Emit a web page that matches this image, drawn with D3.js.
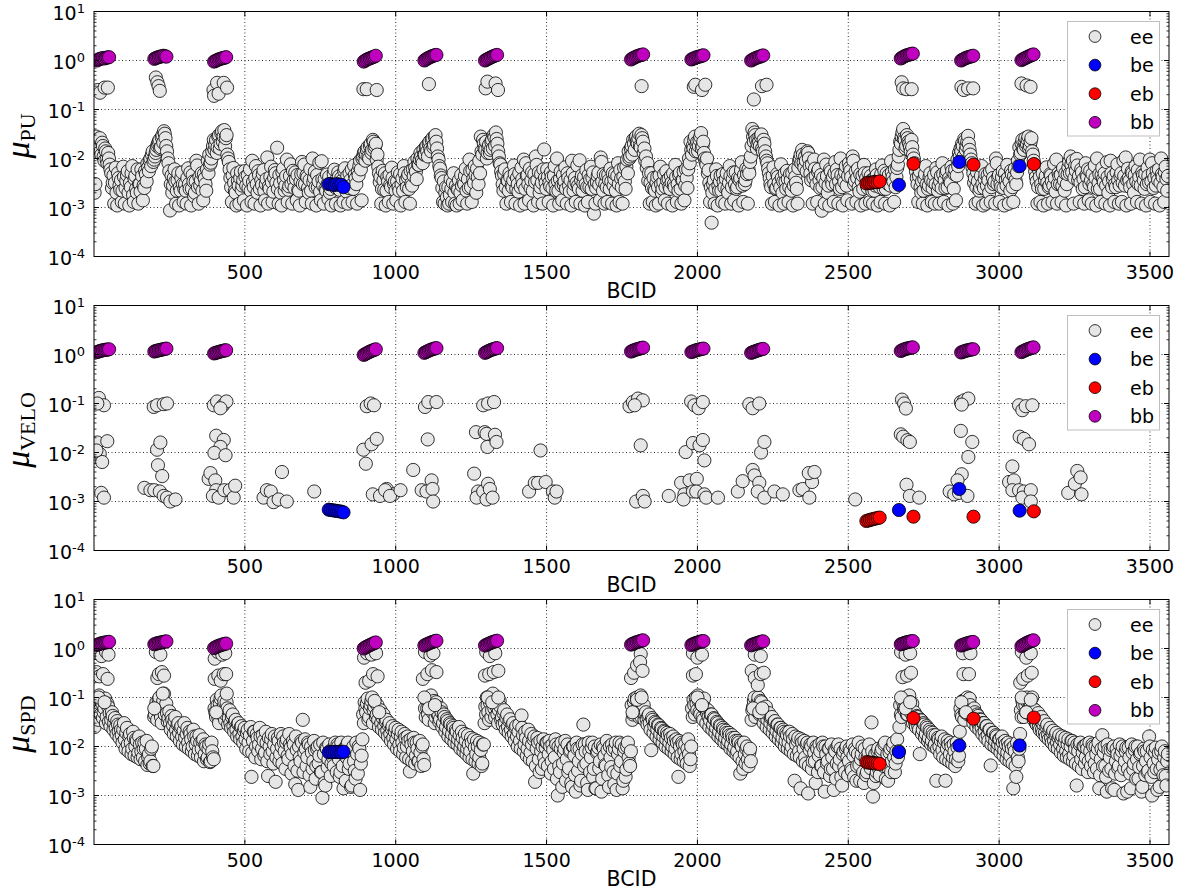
<!DOCTYPE html>
<html><head><meta charset="utf-8">
<script src="https://cdn.jsdelivr.net/npm/d3@7"></script>
<style>body{margin:0;background:#fff}svg{display:block}</style>
</head><body>
<svg id="chart" width="1192" height="896"></svg>
<script>
// ---------------- DATA ----------------
const classes = ["ee", "be", "eb", "bb"];
const classColors = {ee: "#e6e6e6", be: "#0000ff", eb: "#ff0000", bb: "#bf00bf"};
const panelNames = ["PU", "VELO", "SPD"];
const xTickValues = [500, 1000, 1500, 2000, 2500, 3000, 3500];
const yTickExponents = [1, 0, -1, -2, -3, -4];

// ee crossings, sampled on a 5-BCID grid: row r holds BCID 100*r+2, +7, +12 ... (units of 1e-3)
const eePU_milli = [
 [2.0,28,24,19,14,21,11,16,9.5,13,7.5,5.0,3.2,1.2,6.5,1.1,4.0,2.3,1.3,6.8],
 [1.2,3.5,5.5,1.1,2.6,7.0,1.3,4.4,2.0,1.2,3.0,6.0,1.4,2.5,4.8,8.0,5.5,10,12,8.5],
 [11,15,20,24,17,30,36,26,14,8.0,0.87,4.5,2.8,6.0,1.2,3.6,1.1,2.2,5.2,1.3],
 [3.0,1.2,6.3,2.4,1.1,4.6,1.7,3.4,7.2,1.2,2.8,5.0,1.4,3.9,2.2,9.0,12,8.2,14,24],
 [19,13,28,16,33,22,38,26,12,8.5,4.0,1.3,6.4,2.2,1.1,3.5,1.2,5.4,2.8,1.4],
 [4.2,1.1,2.5,6.0,1.3,3.3,1.2,7.0,2.0,4.6,1.1,2.9,5.8,1.4,3.8,1.2,2.4,6.8,1.3,4.0],
 [5.0,16.6,1.2,3.1,1.1,6.2,2.2,4.4,1.3,2.7,7.6,1.2,3.6,5.2,1.4,2.3,1.1,4.8,3.0,7.5],
 [1.3,4.1,2.0,6.1,1.2,3.3,5.4,1.1,2.6,8.2,1.4,3.8,1.2,2.4,4.7,1.5,2.0,1.1,3.2,5.9],
 [1.2,2.6,4.3,1.1,3.5,1.3,6.3,2.1,1.2,5.0,2.8,1.3,7.2,3.9,1.2,4.5,9.0,1.4,11,14],
 [12,17,10,20,15,22,18,9.5,6.8,3.3,1.2,5.6,2.3,1.1,4.2,1.3,2.9,6.5,1.2,3.4],
 [1.4,5.2,2.2,1.1,3.9,7.0,1.3,2.6,4.8,1.2,3.1,6.0,8.5,5.4,10,7.4,13,9.2,15,12],
 [18,11,22,14,26,19,30,16,9.5,6.2,4.0,1.3,1.2,2.6,1.1,1.2,3.8,1.3,5.0,1.2],
 [1.1,2.3,1.2,4.6,1.4,3.0,6.2,1.2,2.5,5.5,1.3,3.8,7.0,2.0,4.2,9.0,28,12,20,15],
 [10,17,13,22,16,27,34,20,11,7.5,4.5,2.2,6.0,1.2,3.5,5.0,1.3,2.6,7.2,1.2],
 [4.0,2.1,1.1,6.5,3.0,1.2,8.0,4.6,1.4,2.5,5.2,1.1,3.3,7.4,1.3,2.0,4.8,1.2,15.3,3.2],
 [6.0,1.3,2.7,4.2,1.1,7.0,2.2,3.5,1.2,5.4,1.4,2.9,6.6,1.2,4.0,2.1,1.1,5.0,3.0,1.3],
 [7.2,2.4,1.2,4.5,3.1,1.1,5.8,1.3,2.6,6.8,4.0,0.75,1.2,3.3,5.1,1.4,8.5,2.2,1.2,4.6],
 [1.3,3.6,6.2,1.2,2.8,4.8,1.1,8.0,1.3,3.9,1.2,6.5,2.4,9.5,14,11,18,24,15,28],
 [20,32,17,26,13,9.0,6.4,3.5,1.2,5.0,1.3,2.4,1.1,4.2,1.2,6.8,2.0,3.3,1.4,5.5],
 [1.2,2.7,4.4,1.1,3.0,7.4,1.3,2.2,5.1,1.2,3.6,1.4,6.0,2.5,10,22,12,16,28,19],
 [14,24,33,18,13,8.5,10,5.8,1.3,0.49,3.0,1.2,6.0,1.1,2.2,4.5,1.3,3.4,1.2,5.0],
 [2.0,7.0,1.2,3.8,1.4,5.2,2.6,1.1,4.0,8.4,1.3,3.0,6.2,1.2,5.0,11,40,22,30,16],
 [26,18,31,14,20,11,8.0,5.0,3.0,1.2,6.6,1.3,2.5,4.2,1.1,7.6,2.0,1.2,3.4,5.6],
 [1.3,4.8,2.2,1.1,6.0,3.2,1.2,9.0,12,15,8.2,11,5.5,13,7.0,3.6,1.2,9.5,4.4,1.3],
 [6.0,2.5,0.86,4.0,1.2,7.5,2.0,1.1,5.4,3.0,1.3,8.5,6.0,1.2,2.4,4.6,1.1,3.3,7.0,1.4],
 [8.0,5.6,1.2,9.0,3.5,1.3,6.2,2.1,1.1,4.5,7.4,1.2,2.8,5.0,1.3,3.6,1.2,2.2,6.0,1.1],
 [3.8,1.3,7.2,2.4,1.2,5.0,3.0,1.1,8.8,4.2,1.3,2.6,6.4,11,22,28,40,24,18,26],
 [20,14,17,10,6.8,4.0,1.3,5.5,2.0,1.2,3.8,7.0,1.1,2.8,5.0,1.3,3.3,1.2,6.4,2.2],
 [1.2,4.4,8.0,1.3,2.5,5.6,1.1,3.4,6.8,1.2,4.8,1.4,9.5,13,16,20,11,23,18,29],
 [15,9.5,6.5,3.2,1.2,5.2,1.3,2.5,7.0,1.1,3.8,1.2,4.6,2.0,1.3,6.0,3.0,1.2,8.0,4.2],
 [1.3,2.6,5.5,1.1,3.6,7.4,1.2,2.2,4.8,1.3,6.2,3.0,9.0,17,13,24,15,26,20,28],
 [18,26,12,7.5,4.2,1.2,5.8,1.3,2.4,1.1,3.6,6.6,1.2,2.8,4.5,1.3,7.8,2.1,1.2,5.0],
 [3.0,1.3,6.4,2.2,1.1,4.8,8.6,11,5.2,1.2,7.0,9.8,3.6,1.3,6.0,2.4,1.2,8.0,4.2,1.4],
 [5.6,1.2,3.0,7.2,1.1,2.4,4.8,1.3,6.4,3.3,1.2,8.4,2.0,1.1,5.0,3.8,1.3,2.6,7.6,1.2],
 [4.4,1.3,9.0,2.8,1.1,6.2,3.5,1.2,5.0,2.0,7.0,1.3,3.0,9.5,1.2,4.6,2.4,1.1,6.5,3.2],
 [1.3,8.0,2.5,1.2,5.6,3.6,1.1,10,4.2,1.3,6.8,2.2]
];
// second interleaved grid: row r holds BCID 100*r+4.5, +9.5 ... (units of 1e-3)
const eePU2_milli = [
 [3.0,22,16,26,12,18,9.0,14,8.0,10,6.0,2.5,4.5,3.2,2.0,5.0,2.8,3.6,2.2,4.2],
 [2.5,4.6,2.0,3.2,5.0,1.8,3.8,2.4,6.0,3.0,2.1,4.4,2.8,5.6,3.4,6.5,9.0,7.0,14,9.5],
 [13,18,22,16,27,21,32,18,10,5.5,3.0,2.0,4.0,3.4,2.2,5.0,2.6,4.0,3.0,2.4],
 [2.2,4.0,3.0,5.2,2.4,3.4,2.0,9.0,2.6,4.2,3.6,2.2,4.8,3.0,6.0,5.0,7.5,10,18,15],
 [24,17,30,20,36,28,18,30,10,6.0,2.6,4.5,3.2,2.0,5.0,2.8,4.0,2.3,3.6,5.5],
 [2.8,4.5,3.5,2.2,9.0,2.6,4.0,3.0,5.5,2.4,3.6,4.8,2.2,3.0,10.5,2.7,4.2,3.3,2.1,5.8],
 [3.2,2.4,4.6,2.0,5.2,3.6,2.8,9.5,2.3,4.4,3.0,5.6,2.5,3.8,4.6,2.2,3.4,8.5,5.0,3.0],
 [4.5,2.5,3.6,2.2,10,4.0,2.6,4.6,3.4,2.1,8.8,2.8,3.8,2.2,3.0,4.2,2.4,3.2,4.8,2.6],
 [3.8,5.2,2.3,4.0,2.8,5.6,3.2,4.4,2.5,3.6,6.0,2.4,4.6,3.0,5.4,7.0,6.0,10,13,9.0],
 [15,11,18,13,24,16,20,12,5.0,4.2,2.4,3.6,5.0,2.2,3.4,4.6,2.6,4.0,3.0,2.2],
 [3.4,2.6,4.8,3.0,2.2,5.0,3.6,4.2,2.4,5.6,2.8,4.4,6.5,3.8,7.5,9.5,11,8.0,12,17],
 [14,20,16,24,17,28,22,11,7.0,4.5,2.5,3.4,2.0,1.6,2.6,1.8,2.4,3.2,2.0,2.8],
 [2.4,3.6,2.0,2.8,3.3,4.4,2.2,3.8,9.5,2.6,5.8,3.2,4.6,6.2,3.0,5.0,14,24,16,22],
 [13,19,15,24,30,18,25,14,8.0,5.4,3.0,4.8,2.6,3.6,2.2,4.2,2.8,3.6,4.8,2.4],
 [3.0,5.0,2.6,3.8,9.5,2.4,4.4,3.0,6.2,3.6,2.2,4.8,11,3.6,5.2,2.6,3.2,6.0,4.0,2.4],
 [4.2,3.2,5.2,2.5,4.4,3.0,10,2.2,3.8,2.8,4.6,3.4,2.4,5.0,2.8,3.6,9.0,2.2,4.0,3.2],
 [2.8,9.2,3.6,2.2,4.2,3.0,2.6,4.6,3.8,2.4,5.2,3.0,2.5,4.4,2.9,10.5,3.4,4.8,3.0,2.6],
 [4.6,2.4,3.4,5.0,3.8,2.2,4.4,3.0,5.8,2.6,4.2,3.4,6.8,5.0,10,16,12,20,26,22],
 [26,18,30,22,16,11,8.0,5.0,3.2,2.5,4.0,2.2,3.2,2.6,4.5,3.0,2.4,4.8,2.6,3.6],
 [3.8,2.4,3.2,5.0,2.6,4.2,3.0,4.6,2.4,3.6,5.4,2.8,4.0,6.0,8.0,15,18,24,14,22],
 [18,28,16,22,10,7.5,5.0,3.2,2.6,2.0,3.6,2.4,4.4,2.8,3.4,2.2,4.8,2.6,3.8,2.4],
 [3.2,4.4,2.6,5.2,3.0,2.4,4.0,3.6,5.8,2.8,4.6,3.6,4.8,6.0,8.5,18,28,34,24,20],
 [22,28,16,24,14,9.0,6.2,4.0,2.6,4.4,3.0,2.4,4.8,3.2,2.6,4.0,3.4,5.0,2.4,3.8],
 [2.6,3.6,5.0,2.8,4.2,2.4,6.4,10,8.0,12,6.5,9.0,14,10,5.0,7.5,4.0,6.2,3.0,5.4],
 [3.6,4.6,2.6,9.5,3.2,4.4,2.8,6.0,3.6,4.2,5.0,3.0,4.6,3.4,10,2.6,4.0,5.2,2.8,4.4],
 [6.5,4.2,11,3.0,5.5,4.0,2.6,4.8,3.4,2.4,5.0,4.0,2.5,3.6,4.4,2.2,3.8,2.8,4.6,3.2],
 [2.6,4.8,3.2,5.6,2.4,3.8,4.6,2.8,5.2,3.4,6.0,4.2,7.5,15,20,34,26,16,30,22],
 [17,24,12,8.0,5.4,3.0,4.4,2.6,3.4,2.2,4.8,3.0,2.4,4.2,3.6,2.5,4.6,3.0,5.2,2.8],
 [3.4,2.5,4.8,3.6,5.0,2.6,4.0,3.2,5.6,2.4,6.0,4.5,7.0,11,14,18,25,15,22,20],
 [12,8.0,5.0,4.0,2.6,3.4,2.2,4.4,3.0,2.5,4.8,2.8,3.6,5.4,2.6,4.0,3.4,10,3.0,4.6],
 [3.0,4.2,2.5,5.0,2.8,4.0,3.4,5.6,2.6,4.4,3.6,5.2,7.0,12,20,16,22,18,24,16],
 [22,14,9.0,5.5,3.4,2.6,4.2,3.0,5.0,2.4,4.4,3.2,2.6,4.8,3.4,2.8,4.0,9.5,3.0,4.4],
 [4.6,2.8,3.6,5.0,3.0,6.5,5.0,7.5,9.0,4.0,5.6,7.2,4.4,3.2,5.2,3.8,2.6,4.6,6.0,3.0],
 [3.6,4.8,2.6,4.0,10,3.2,2.4,4.6,3.8,5.0,2.8,4.2,3.4,9.0,2.6,4.4,3.0,5.2,3.6,2.8],
 [5.0,3.2,4.4,10.5,3.6,4.0,2.6,5.4,3.0,4.6,3.4,5.8,4.2,2.8,5.2,3.6,4.8,3.0,4.4,9.5],
 [3.4,5.0,4.0,2.8,4.4,6.0,3.2,4.8,2.6,5.2,3.8,4.4]
];
const eeSPD_milli = [
 [25,90,60,110,45,75,50,95,40,65,48,35,42,30,24,33,20,27,17,22],
 [14,19,11,16,12,9.0,15,10,13,7.5,11,8.0,6.0,12,9.0,4.2,7.0,5.0,10,4.0],
 [45,80,55,100,40,70,120,60,48,38,30,42,27,33,22,28,19,24,16,21],
 [15,18,12,20,14,10,16,11,13,8.5,12,9.0,14,7.0,10,6.0,11,5.0,8.0,5.5],
 [50,90,40,75,110,55,85,45,60,38,30,40,26,33,22,29,18,25,16,21],
 [14,19,12,17,2.4,13,20,10,15,11,16,9.0,13,7.5,12,2.5,10,14,8.0,11],
 [1.9,9.0,13,7.0,10,16,8.0,12,6.5,18,9.5,7.0,11,1.7,8.5,1.3,6.0,13,35,7.5],
 [9.0,6.0,11,1.5,7.5,5.0,8.5,4.0,10,6.5,3.0,0.9,7.0,1.6,9.0,5.5,8.0,4.5,6.0,10],
 [8.0,11,5.5,3.0,7.5,1.4,9.0,6.0,12,4.5,1.5,8.0,5.0,2.2,7.0,10,1.3,6.5,45,80],
 [50,95,40,70,100,55,80,45,35,48,30,38,26,32,21,27,18,23,15,20],
 [14,18,11,16,12,9.5,15,10,13,3.1,11,8.0,12,6.5,9.0,5.0,7.5,10,5.5,60],
 [90,45,75,110,50,85,40,65,45,36,50,30,40,25,33,21,28,18,24,16],
 [20,14,17,12,15,10,13,9.0,11,8.0,12,2.8,9.5,7.0,10,6.0,8.5,4.5,11,65],
 [100,50,80,40,120,60,90,45,55,65,40,48,30,38,25,33,22,28,18,24],
 [16,20,13,43,17,11,15,9.0,13,7.5,11,14,1.9,9.0,12,3.0,8.0,10,6.0,9.5],
 [12,7.0,10,5.0,8.5,6.0,11,1.0,4.0,9.0,1.5,7.5,13,5.5,3.0,8.0,1.8,10,6.5,1.2],
 [9.0,5.0,1.6,7.0,28,11,4.5,1.3,8.0,6.0,12,3.5,1.4,7.5,9.5,5.0,1.2,10,6.5,4.0],
 [8.5,1.5,6.0,11,3.0,9.0,1.3,7.0,12,5.0,1.4,8.0,2.4,10,6.0,4.0,70,45,95,55],
 [85,40,110,50,70,45,36,42,30,8.4,35,26,30,22,27,18,23,16,20,14],
 [17,12,15,10,13,9.0,12,2.4,10,7.0,11,8.0,6.0,9.0,7.0,5.5,60,90,45,75],
 [110,50,80,40,95,60,48,40,34,45,28,36,24,30,20,26,17,22,15,19],
 [13,17,11,15,9.5,13,8.0,12,2.8,10,3.5,7.0,9.0,5.5,7.5,5.0,55,85,40,70],
 [100,45,80,60,40,65,35,48,30,40,25,33,21,28,18,24,15,20,13,17],
 [12,16,10,14,2.0,11,13,8.0,1.4,12,9.0,6.0,11,1.1,8.5,10,5.0,7.5,1.8,9.0],
 [6.5,8.0,4.0,10,1.2,7.0,5.0,9.0,3.5,6.0,1.3,8.0,4.5,11,5.5,2.4,7.0,3.8,9.0,6.0],
 [5.0,8.0,3.2,6.5,9.0,2.0,7.0,4.2,5.5,10,1.8,6.0,3.0,7.5,4.5,31,0.95,5.5,2.5,8.0],
 [3.5,6.5,9.0,4.0,12,5.0,2.0,7.5,3.0,10,6.0,4.5,14,8.0,70,40,95,55,80,45],
 [110,50,75,38,30,42,26,7.0,34,22,28,18,24,15,20,13,17,11,2.0,15],
 [10,13,8.5,12,2.0,9.0,11,7.0,10,6.0,8.0,5.5,9.5,6.5,60,40,85,50,75,45],
 [95,55,40,60,35,45,28,36,24,30,20,26,17,22,4.1,15,19,13,16,11],
 [14,10,12,8.5,11,7.5,10,6.5,9.0,1.4,8.0,2.4,6.0,9.0,55,85,40,70,100,50],
 [80,45,60,38,30,42,26,34,22,28,19,25,17,22,15,19,13,17,12,15],
 [11,14,9.0,12,8.0,11,7.0,10,13,6.5,9.0,1.6,8.0,11,5.5,7.5,10,6.0,9.0,5.0],
 [8.0,6.0,10,4.5,7.0,9.0,1.4,5.5,17,7.5,4.0,1.2,8.5,6.0,3.5,9.0,1.3,5.0,7.0,4.0],
 [6.5,8.0,1.1,5.0,9.5,3.5,6.0,1.4,7.5,4.5,10,5.5,2.2,7.0,1.2,4.0,8.0,5.0,3.0,16],
 [6.0,1.0,4.5,7.5,3.5,5.5,1.5,8.0,4.0,6.0,2.5,5.0]
];
const eeSPD2_milli = [
 [40,70,35,55,85,38,60,30,75,32,26,50,22,38,18,28,15,22,12,30],
 [9.0,24,8.0,18,7.0,20,6.5,14,6.0,16,5.5,12,9.0,5.0,13,6.0,4.5,9.0,4.0,40],
 [65,35,90,50,30,85,45,75,32,52,22,35,18,40,16,30,13,26,11,30],
 [10,24,9.0,18,8.0,22,7.0,16,6.5,17,6.0,13,5.0,11,5.5,9.0,4.8,12,6.0,60],
 [40,70,30,95,45,65,35,80,28,55,24,45,20,35,16,30,14,26,12,24],
 [9.0,22,8.0,25,7.5,20,6.0,18,8.0,24,5.5,17,6.5,20,5.0,15,7.0,18,4.5,16],
 [6.0,15,5.0,18,4.5,12,3.5,14,5.5,11,2.8,13,4.0,16,3.2,10,5.0,12,3.0,14],
 [4.0,12,2.6,10,3.5,13,2.2,9.0,4.5,11,3.0,12,1.8,9.5,3.8,11,2.5,8.0,4.0,12],
 [3.0,10,2.4,12,4.0,9.0,2.0,11,3.5,8.0,1.6,10,3.2,12,2.8,9.0,4.5,14,30,60],
 [75,35,60,85,30,65,40,70,25,55,22,45,19,35,16,30,13,26,11,24],
 [9.0,22,8.0,20,7.0,18,6.0,16,5.5,14,5.0,15,4.5,12,5.0,13,4.0,11,4.2,40],
 [60,35,95,55,70,30,80,45,32,60,25,45,20,36,16,30,14,26,12,22],
 [11,25,9.0,20,8.0,18,7.0,17,6.0,15,5.5,14,5.0,13,4.5,12,4.0,11,30,45],
 [70,35,95,55,75,40,65,30,85,35,28,55,22,45,19,36,16,30,13,26],
 [10,28,9.0,24,8.0,20,6.5,22,5.5,18,5.0,16,4.0,15,5.5,13,3.5,14,4.5,12],
 [4.0,13,2.8,11,3.5,14,2.2,10,3.0,12,4.5,9.0,2.0,11,3.6,8.5,1.5,10,2.6,12],
 [3.2,9.0,2.0,11,4.0,8.0,1.8,12,3.0,9.5,2.4,10,1.4,8.0,3.6,11,2.2,9.0,4.2,13],
 [2.6,10,3.8,8.5,1.7,12,2.8,9.0,4.0,11,2.0,9.5,3.4,12,4.5,8.0,35,80,50,100],
 [60,85,40,65,35,50,28,45,22,38,19,32,16,28,14,24,12,21,10,19],
 [9.0,18,8.0,16,7.0,14,6.0,13,5.5,12,5.0,11,4.5,14,4.0,10,40,70,100,55],
 [85,45,70,35,60,30,55,25,45,22,38,19,32,16,27,14,24,12,21,11],
 [19,9.0,17,8.0,15,7.0,13,6.0,11,5.0,12,4.5,10,4.0,9.0,35,65,100,55,80],
 [50,85,45,30,55,25,45,22,38,19,32,16,28,14,24,12,22,10,19,9.0],
 [20,8.0,18,7.0,16,6.5,15,6.0,14,5.0,13,4.5,12,4.0,11,3.5,12,5.0,10,3.0],
 [11,4.0,12,3.0,10,4.5,9.0,2.5,11,3.5,8.5,2.2,10,4.0,9.0,1.6,8.0,3.0,10,2.6],
 [9.0,3.5,11,2.4,8.0,4.0,12,2.0,7.0,3.0,9.0,2.6,6.0,11,3.6,8.0,1.8,7.0,3.0,9.0],
 [2.6,8.0,4.5,11,2.2,7.0,3.5,9.0,5.0,12,3.0,8.0,6.0,25,45,85,60,100,45,70],
 [80,55,30,50,25,40,22,35,18,30,15,26,13,22,11,19,10,17,9.0,14],
 [7.0,16,6.0,14,5.5,13,5.0,12,4.5,11,4.0,12,5.0,20,45,85,35,65,100,55],
 [70,40,30,50,25,42,22,35,18,30,15,26,13,22,11,19,10,17,9.0,14],
 [7.5,16,6.5,13,5.5,12,5.0,11,4.5,10,4.0,12,5.0,18,40,70,95,50,80,60],
 [65,100,35,55,28,48,22,40,19,33,16,28,14,24,12,21,10,19,9.0,17],
 [7.5,16,6.5,15,6.0,14,5.5,13,5.0,12,4.5,11,4.0,12,3.5,10,4.5,11,3.0,12],
 [4.0,11,3.0,10,3.5,12,2.6,9.0,4.0,10,2.4,11,3.2,8.5,1.4,10,2.8,9.0,3.6,11],
 [2.6,10,3.5,8.0,1.2,9.5,2.8,11,3.4,8.5,2.2,10,3.8,7.5,1.5,9.0,2.6,8.0,3.2,10],
 [2.4,8.5,3.0,9.5,1.3,7.5,3.4,10,2.6,8.0,1.6,7.0]
];
// extra ee crossings next to the colliding trains [BCID, mu]
const eePU_extra = [
 [12,0.25],[20,0.22],[35,0.28],[46,0.28],
 [205,0.45],[210,0.36],[214,0.30],[218,0.24],
 [396,0.25],[398,0.19],[408,0.35],[413,0.21],[430,0.35],[441,0.28],
 [893,0.26],[904,0.26],[937,0.25],
 [1110,0.33],
 [1298,0.27],[1304,0.37],[1331,0.34],[1339,0.25],
 [1815,0.30],
 [1988,0.29],[1993,0.32],[2015,0.25],[2026,0.32],
 [2187,0.16],[2214,0.30],[2229,0.32],
 [2677,0.36],[2682,0.27],[2693,0.26],[2710,0.26],
 [2875,0.29],[2883,0.25],[2897,0.27],[2914,0.27],
 [3074,0.34],[3091,0.31],[3104,0.29]
];
const eeVELO = [
 [16,0.13],[33,0.092],[11,0.10],[11,0.016],[44,0.017],[19,0.0094],[27,0.0064],[8,0.011],[24,0.0015],[33,0.0012],
 [167,0.0019],[187,0.0017],[200,0.0017],[218,0.0016],[231,0.0013],[242,0.0012],[253,0.0010],[270,0.0011],
 [198,0.085],[209,0.092],[231,0.097],[242,0.10],
 [209,0.0114],[220,0.016],[212,0.0055],[226,0.0033],
 [380,0.0029],[386,0.0038],[402,0.0027],[405,0.0017],[394,0.0013],[413,0.0012],[432,0.0017],[450,0.0017],[463,0.0012],[468,0.0021],
 [397,0.092],[408,0.11],[428,0.092],[439,0.11],[419,0.080],
 [405,0.022],[430,0.018],[419,0.013],[399,0.0098],[436,0.0088],
 [562,0.0012],[573,0.0017],[586,0.0016],[595,0.00097],[612,0.0011],[623,0.0040],[639,0.0010],
 [730,0.0016],
 [893,0.0114],[901,0.0059],[920,0.0147],[937,0.019],
 [904,0.088],[917,0.10],[928,0.092],
 [924,0.0014],[948,0.0013],[970,0.0018],[992,0.0014],[965,0.0017],[981,0.0013],[1016,0.0017],
 [1058,0.0044],
 [1086,0.0017],[1102,0.0016],[1119,0.0027],[1122,0.0018],[1124,0.0010],
 [1106,0.0185],
 [1097,0.085],[1108,0.107],[1135,0.107],
 [1260,0.0037],[1273,0.0016],[1268,0.0012],[1290,0.0016],[1301,0.0011],[1306,0.0023],[1312,0.0018],[1321,0.0012],
 [1266,0.026],[1295,0.026],[1301,0.024],[1329,0.023],[1304,0.013],[1334,0.0164],
 [1290,0.092],[1306,0.10],[1326,0.107],
 [1442,0.0016],[1461,0.0024],[1472,0.0024],[1497,0.0025],[1521,0.0016],[1527,0.0012],[1533,0.0016],
 [1480,0.011],
 [1797,0.0010],[1819,0.0013],[1825,0.0010],
 [1812,0.014],
 [1775,0.088],[1786,0.107],[1803,0.126],[1819,0.116],[1792,0.092],
 [1905,0.0013],
 [1946,0.0024],[1957,0.0014],[1954,0.0011],[1974,0.0027],[1985,0.0016],[1998,0.0029],[1996,0.0016],[2023,0.0014],[2029,0.0012],[2068,0.0012],
 [1961,0.0102],[1985,0.0156],[2007,0.014],[2018,0.018],[2023,0.0069],
 [1979,0.11],[1990,0.092],[2004,0.080],[2018,0.107],
 [2134,0.0016],[2150,0.0026],[2183,0.0044],[2189,0.0034],[2205,0.0024],[2200,0.0016],[2222,0.0012],[2255,0.0016],
 [2211,0.010],[2222,0.0164],
 [2172,0.097],[2183,0.080],[2205,0.10],
 [2283,0.0014],[2338,0.0017],[2349,0.0018],[2371,0.0012],[2380,0.0025],[2369,0.0038],[2388,0.0040],
 [2523,0.0011],
 [2693,0.0022],[2704,0.0013],[2735,0.0012],
 [2674,0.0235],[2682,0.021],[2696,0.0178],[2704,0.0164],
 [2678,0.12],[2685,0.10],[2691,0.079],
 [2836,0.0016],[2851,0.0014],[2867,0.0015],[2895,0.0013],[2876,0.0036],[2862,0.0027],[2898,0.0081],[2873,0.0276],[2911,0.0164],
 [2873,0.107],[2884,0.116],[2898,0.126],[2876,0.095],
 [3044,0.0052],[3033,0.0025],[3049,0.0027],[3044,0.0017],[3066,0.0017],[3082,0.0016],[3077,0.0012],[3105,0.0017],[3105,0.0010],
 [3068,0.021],[3082,0.019],[3099,0.0147],
 [3066,0.092],[3077,0.073],[3088,0.088],[3110,0.092],
 [3229,0.0015],[3251,0.0023],[3259,0.0042],[3270,0.0031],[3273,0.0014]
];
const eeSPD_extra = [
 [12,0.80],[25,0.70],[40,0.85],[48,0.75],[8,0.33],[18,0.27],[30,0.30],[45,0.24],[15,0.10],[35,0.08],
 [205,0.85],[220,0.75],[210,0.25],[215,0.30],[225,0.33],[232,0.28],[228,0.12],[200,0.06],
 [400,0.62],[410,0.85],[425,0.75],[435,0.80],[400,0.24],[412,0.28],[420,0.22],[430,0.30],[438,0.30],[440,0.12],[405,0.05],
 [895,0.65],[905,0.80],[920,0.75],[935,0.80],[900,0.20],[912,0.22],[925,0.30],[940,0.27],[930,0.085],[945,0.05],
 [1097,0.85],[1115,0.72],[1125,0.80],[1090,0.24],[1105,0.30],[1120,0.36],[1135,0.33],[1095,0.10],[1110,0.06],[1130,0.07],
 [1300,0.85],[1312,0.70],[1330,0.80],[1296,0.28],[1310,0.30],[1325,0.33],[1340,0.35],[1305,0.10],[1320,0.08],[1340,0.10],
 [1812,0.77],[1780,0.25],[1790,0.32],[1800,0.45],[1810,0.53],[1818,0.35],[1785,0.05],[1800,0.09],[1815,0.10],
 [1985,0.80],[2000,0.65],[2015,0.75],[1985,0.28],[1995,0.30],[2000,0.10],[2015,0.07],
 [2190,0.75],[2210,0.70],[2180,0.35],[2190,0.25],[2200,0.18],[2210,0.30],[2220,0.32],[2185,0.06],[2205,0.05],[2215,0.06],
 [2675,0.85],[2690,0.75],[2705,0.80],[2680,0.26],[2695,0.28],[2708,0.32],[2675,0.10],[2690,0.06],[2705,0.08],
 [2880,0.80],[2905,0.80],[2882,0.30],[2900,0.30],[2875,0.08],[2890,0.05],
 [3075,0.85],[3090,0.65],[3105,0.80],[3070,0.20],[3080,0.24],[3095,0.28],[3108,0.32],[3075,0.10],[3090,0.05],[3105,0.09]
];

// colliding (bb) trains: first BCID of each train and bunch offsets within a train
const trainStarts = [10, 200, 398, 894, 1095, 1296, 1780, 1980, 2178, 2674, 2874, 3074];
const bunchOffsets = [0, 5, 10, 15, 20, 25, 30, 35, 40];
const bbPU = [
 [1.00,1.05,1.08,1.10,1.12,1.10,1.14,1.15,1.17],[1.08,1.12,1.15,1.18,1.20,1.22,1.25,1.22,1.20],
 [0.95,0.98,1.02,1.05,1.08,1.10,1.12,1.14,1.17],[0.95,1.00,1.04,1.08,1.10,1.14,1.17,1.20,1.25],
 [1.00,1.05,1.10,1.14,1.18,1.22,1.25,1.28,1.30],[1.00,1.04,1.08,1.12,1.16,1.20,1.24,1.27,1.30],
 [1.05,1.10,1.14,1.18,1.22,1.25,1.28,1.30,1.33],[1.05,1.08,1.12,1.15,1.18,1.20,1.22,1.25,1.28],
 [1.00,1.04,1.08,1.12,1.15,1.18,1.20,1.24,1.27],[1.10,1.15,1.20,1.24,1.28,1.30,1.33,1.36,1.38],
 [1.00,1.04,1.08,1.12,1.15,1.18,1.20,1.22,1.25],[1.02,1.06,1.10,1.14,1.18,1.22,1.26,1.30,1.33]
];
const bbVELO = [
 [1.12,1.15,1.18,1.20,1.22,1.24,1.25,1.26,1.28],[1.15,1.18,1.20,1.22,1.24,1.26,1.28,1.30,1.32],
 [1.05,1.08,1.10,1.12,1.15,1.17,1.19,1.21,1.22],[0.98,1.02,1.06,1.10,1.14,1.18,1.21,1.24,1.28],
 [1.08,1.12,1.16,1.20,1.24,1.27,1.30,1.33,1.35],[1.08,1.12,1.16,1.20,1.24,1.27,1.30,1.33,1.35],
 [1.15,1.18,1.22,1.25,1.28,1.30,1.33,1.36,1.38],[1.12,1.15,1.18,1.21,1.24,1.26,1.28,1.30,1.32],
 [1.08,1.11,1.14,1.17,1.20,1.23,1.26,1.28,1.30],[1.18,1.22,1.26,1.29,1.32,1.34,1.36,1.38,1.40],
 [1.10,1.13,1.16,1.19,1.21,1.23,1.25,1.27,1.28],[1.12,1.16,1.20,1.24,1.28,1.31,1.34,1.37,1.40]
];
const bbSPD = [
 [1.18,1.22,1.25,1.28,1.30,1.32,1.33,1.35,1.37],[1.22,1.25,1.28,1.30,1.32,1.34,1.36,1.38,1.40],
 [1.02,1.06,1.10,1.13,1.16,1.19,1.21,1.24,1.26],[1.00,1.05,1.09,1.13,1.17,1.21,1.25,1.29,1.33],
 [1.15,1.19,1.23,1.27,1.31,1.35,1.38,1.41,1.44],[1.15,1.19,1.23,1.27,1.31,1.35,1.38,1.41,1.44],
 [1.20,1.24,1.28,1.32,1.35,1.38,1.41,1.44,1.47],[1.18,1.22,1.26,1.29,1.32,1.35,1.38,1.40,1.42],
 [1.16,1.20,1.23,1.26,1.29,1.32,1.35,1.38,1.40],[1.22,1.25,1.28,1.31,1.34,1.36,1.38,1.40,1.42],
 [1.15,1.18,1.21,1.24,1.27,1.30,1.32,1.34,1.36],[1.12,1.17,1.22,1.27,1.32,1.36,1.40,1.44,1.47]
];

// beam-empty (be) and empty-beam (eb) crossings: BCIDs and values (units of 1e-3)
const beBCID = [778,785,792,799,806,813,820,827, 2668,2868,3068];
const ebBCID = [2560,2566,2572,2578,2584,2590,2597,2604, 2716,2915,3115];
const bePU_milli   = [3.0,3.0,2.9,2.9,3.0,2.9,2.9,2.6, 2.9,8.5,7.0];
const ebPU_milli   = [3.1,3.2,3.2,3.2,3.3,3.3,3.3,3.4, 7.8,7.5,7.7];
const beVELO_milli = [0.68,0.67,0.66,0.65,0.64,0.63,0.62,0.60, 0.67,1.8,0.65];
const ebVELO_milli = [0.40,0.41,0.42,0.43,0.44,0.45,0.46,0.47, 0.49,0.49,0.63];
const beSPD_milli  = [7.6,7.7,7.7,7.8,7.7,7.7,7.6,7.8, 7.7,10.5,10.5];
const ebSPD_milli  = [4.8,4.7,4.7,4.6,4.6,4.5,4.5,4.4, 38,37,39];

// ---------------- BUILD ----------------
function fromGrid(rows, first){
  const out = [];
  rows.forEach((row, r) => row.forEach((v, i) => out.push({b: 100*r + first + 5*i, v: v*1e-3})));
  return out;
}
const fromPairs = arr => arr.map(d => ({b: d[0], v: d[1]}));
const fromMilli = (bcids, vals) => bcids.map((b, i) => ({b, v: vals[i]*1e-3}));
function fromTrains(vals){
  const out = [];
  trainStarts.forEach((s, t) => bunchOffsets.forEach((o, k) => out.push({b: s + o, v: vals[t][k]})));
  return out;
}
function interleave(a, b){
  const out = [];
  for (let i = 0; i < Math.max(a.length, b.length); i++) { if (a[i]) out.push(a[i]); if (b[i]) out.push(b[i]); }
  return out;
}

const panels = [
  {name: panelNames[0], top: 11.5,
   series: {ee: interleave(fromGrid(eePU_milli, 2), fromGrid(eePU2_milli, 4.5)).concat(fromPairs(eePU_extra)),
            be: fromMilli(beBCID, bePU_milli), eb: fromMilli(ebBCID, ebPU_milli), bb: fromTrains(bbPU)}},
  {name: panelNames[1], top: 305.5,
   series: {ee: fromPairs(eeVELO), be: fromMilli(beBCID, beVELO_milli),
            eb: fromMilli(ebBCID, ebVELO_milli), bb: fromTrains(bbVELO)}},
  {name: panelNames[2], top: 599.5,
   series: {ee: interleave(fromGrid(eeSPD_milli, 2), fromGrid(eeSPD2_milli, 4.5)).concat(fromPairs(eeSPD_extra)),
            be: fromMilli(beBCID, beSPD_milli), eb: fromMilli(ebBCID, ebSPD_milli), bb: fromTrains(bbSPD)}}
];

const svg = d3.select("#chart");
const L = 94, R = 1169, PH = 245;
const x = d3.scaleLinear().domain([0, 3563]).range([L, R]);
const FONT = "'DejaVu Sans', sans-serif";
const minors = [];
for (let e = -4; e < 1; e++) for (let k = 2; k <= 9; k++) minors.push(k * Math.pow(10, e));
const majors = yTickExponents.map(e => Math.pow(10, e));

panels.forEach((p, pi) => {
  const top = p.top, bot = top + PH;
  const y = d3.scaleLog().domain([1e-4, 10]).range([bot, top]);
  const g = svg.append("g");

  g.append("clipPath").attr("id", "clip" + pi)
    .append("rect").attr("x", L).attr("y", top).attr("width", R - L).attr("height", PH);

  // grid
  const grid = g.append("g").attr("stroke", "#000").attr("stroke-width", 0.8).attr("stroke-dasharray", "1,2.5");
  grid.selectAll("line.gx").data(xTickValues).join("line")
    .attr("x1", d => x(d)).attr("x2", d => x(d)).attr("y1", top).attr("y2", bot);
  grid.selectAll("line.gy").data(majors.filter(v => v > 1e-4 && v < 10)).join("line")
    .attr("class", "gy")
    .attr("x1", L).attr("x2", R).attr("y1", d => y(d)).attr("y2", d => y(d));

  // points
  const pg = g.append("g").attr("clip-path", `url(#clip${pi})`);
  classes.forEach(c => {
    pg.append("g").selectAll("circle").data(p.series[c]).join("circle")
      .attr("cx", d => x(d.b)).attr("cy", d => y(d.v)).attr("r", 6.6)
      .attr("fill", classColors[c]).attr("stroke", "#000").attr("stroke-width", 0.8);
  });

  // frame
  g.append("rect").attr("x", L).attr("y", top).attr("width", R - L).attr("height", PH)
    .attr("fill", "none").attr("stroke", "#000").attr("stroke-width", 1);

  // ticks
  const tk = g.append("g").attr("stroke", "#000").attr("stroke-width", 1);
  xTickValues.forEach(v => {
    tk.append("line").attr("x1", x(v)).attr("x2", x(v)).attr("y1", bot).attr("y2", bot - 5);
    tk.append("line").attr("x1", x(v)).attr("x2", x(v)).attr("y1", top).attr("y2", top + 5);
  });
  majors.forEach(v => {
    tk.append("line").attr("x1", L).attr("x2", L + 5).attr("y1", y(v)).attr("y2", y(v));
    tk.append("line").attr("x1", R).attr("x2", R - 5).attr("y1", y(v)).attr("y2", y(v));
  });
  minors.forEach(v => {
    tk.append("line").attr("x1", L).attr("x2", L + 2.5).attr("y1", y(v)).attr("y2", y(v)).attr("stroke-width", 0.8);
    tk.append("line").attr("x1", R).attr("x2", R - 2.5).attr("y1", y(v)).attr("y2", y(v)).attr("stroke-width", 0.8);
  });

  // x tick labels
  g.selectAll("text.xt").data(xTickValues).join("text")
    .attr("x", d => x(d)).attr("y", bot + 22).attr("text-anchor", "middle")
    .attr("font-family", FONT).attr("font-size", 19).text(d => d);
  // y tick labels 10^e
  yTickExponents.forEach(e => {
    const t = g.append("text").attr("x", 85).attr("y", y(Math.pow(10, e)) + 8)
      .attr("text-anchor", "end").attr("font-family", FONT).attr("font-size", 19);
    t.append("tspan").text("10");
    t.append("tspan").attr("dy", -7).attr("font-size", 13).text(String(e));
  });
  // x axis label
  g.append("text").attr("x", (L + R) / 2).attr("y", bot + 41.5).attr("text-anchor", "middle")
    .attr("font-family", FONT).attr("font-size", 20.5).text("BCID");
  // y axis label
  const yl = g.append("text")
    .attr("transform", `translate(29,${(top + bot) / 2 + 2}) rotate(-90)`)
    .attr("text-anchor", "middle").attr("font-family", "'Liberation Serif','DejaVu Serif',serif");
  yl.append("tspan").attr("font-style", "italic").attr("font-size", 34).text("\u03bc");
  yl.append("tspan").attr("font-size", 22).attr("dy", 6).text(p.name);

  // legend
  const lg = g.append("g");
  lg.append("rect").attr("x", 1067.5).attr("y", top + 10).attr("width", 92).attr("height", 114.5)
    .attr("fill", "#fff").attr("stroke", "#bfbfbf").attr("stroke-width", 1);
  classes.forEach((c, i) => {
    const cy = top + 25 + i * 28.6;
    lg.append("circle").attr("cx", 1095).attr("cy", cy).attr("r", 5.9)
      .attr("fill", classColors[c]).attr("stroke", "#000").attr("stroke-width", 0.8);
    lg.append("text").attr("x", 1130).attr("y", cy + 7).attr("font-family", FONT).attr("font-size", 19).text(c);
  });
});
</script>
</body></html>
